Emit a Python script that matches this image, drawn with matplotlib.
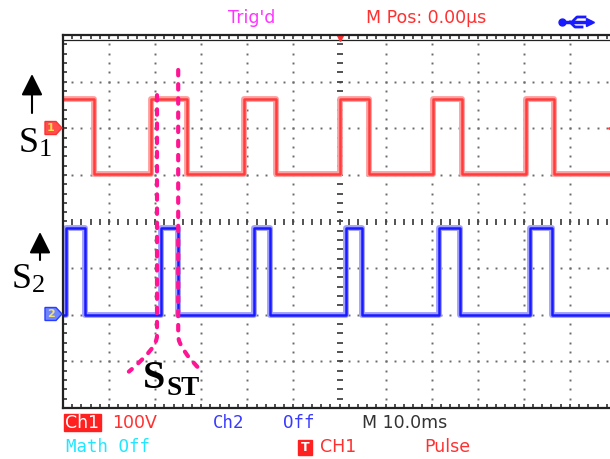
import matplotlib.pyplot as plt
import numpy as np
from matplotlib.patches import Polygon, Rectangle, PathPatch, FancyArrowPatch
from matplotlib.path import Path

# time in ms (10 ms/div), 0 = trigger point at the centre of the screen
# S1 on ch1, 100 V/div, its ground marker sits 2 div above the centre
ch1_edges = [-60.0, -53.3, -40.9, -33.0, -20.7, -13.7, 0.2, 6.3, 20.2, 26.5, 40.4, 46.5, 60.0]
ch1_state = [1, 0, 1, 0, 1, 0, 1, 0, 1, 0, 1, 0]
ch1_on_v = 62.0
ch1_off_v = -98.0

# S2 on ch2, in div above its ground marker (2 div below the centre)
ch2_edges = [-60.0, -59.3, -55.2, -38.7, -35.0, -18.5, -15.0, 1.5, 4.8, 21.5, 26.1, 41.3, 46.1, 60.0]
ch2_state = [0, 1, 0, 1, 0, 1, 0, 1, 0, 1, 0, 1, 0]
ch2_on_div = 1.86
ch2_off_div = 0.0

# hand-drawn S_ST guide lines (ms, div)
sst_left = [(-39.6, 2.71), (-39.6, -2.45), (-39.6, -2.72), (-45.7, -3.22)]
sst_right = [(-35.0, 3.25), (-35.0, -2.45), (-35.0, -2.72), (-29.8, -3.22)]

W, H = 610, 459


def fx(x):
    return x / W


def fy(y):
    return 1 - y / H


fig = plt.figure(figsize=(W / 100, H / 100), dpi=100)
ax = fig.add_axes([63 / W, 1 - 408 / H, 553 / W, 373 / H])
ax.set_xlim(-60, 60)
ax.set_ylim(-4, 4)

# ruler ticks on the screen border
ax.set_xticks(np.arange(-60, 60.1, 2))
ax.set_yticks(np.arange(-4, 4.01, 0.2))
ax.tick_params(direction='in', length=3.2, width=1.1, top=True, right=True,
               labelbottom=False, labelleft=False, color='#222222')
for s in ax.spines.values():
    s.set_linewidth(1.6)
    s.set_color('#222222')
ax.axhline(4 - 0.1, color='#222222', lw=0.9)

# dotted graticule
dots_y = np.arange(-4, 4.01, 0.2)
for gx in range(-50, 51, 10):
    if gx == 0:
        continue
    ax.plot(np.full_like(dots_y, gx), dots_y, ls='none', marker='s', ms=1.4,
            mew=0, color='#6a6a6a')
dots_x = np.arange(-60, 60.1, 2)
for gy in range(-3, 4):
    if gy == 0:
        continue
    ax.plot(dots_x, np.full_like(dots_x, gy), ls='none', marker='s', ms=1.4,
            mew=0, color='#6a6a6a')
# centre cross with small ticks
ax.plot(dots_x, np.zeros_like(dots_x), ls='none', marker='|', ms=4, mew=1.3,
        color='#444444')
ax.plot(np.zeros_like(dots_y), dots_y, ls='none', marker='_', ms=4, mew=1.3,
        color='#444444')

# traces
y1 = [2 + (ch1_on_v if s else ch1_off_v) / 100 for s in ch1_state]
y1 = y1 + [y1[-1]]
y2 = [-2 + (ch2_on_div if s else ch2_off_div) for s in ch2_state]
y2 = y2 + [y2[-1]]
ax.plot(ch1_edges, y1, drawstyle='steps-post', color='#ffa0a0', lw=4.2)
ax.plot(ch1_edges, y1, drawstyle='steps-post', color='#ff3b3b', lw=1.8)
ax.plot(ch2_edges, y2, drawstyle='steps-post', color='#a0a0ff', lw=4.2)
ax.plot(ch2_edges, y2, drawstyle='steps-post', color='#1a1aff', lw=1.8)

# trigger level marker on the right edge
ax.plot([58.9], [2.0], marker='<', ms=5, color='#ff4040', clip_on=False)

# pink guide lines
codes = [Path.MOVETO, Path.LINETO, Path.CURVE3, Path.CURVE3]
for pts in (sst_left, sst_right):
    ax.add_patch(PathPatch(Path(pts, codes), fill=False, edgecolor='#ff1493',
                           lw=3.0, linestyle=(0, (1.3, 2.1)), capstyle='round',
                           zorder=5))

# channel flags on the left
for yc, face, edge, txt, tcol in [(128, '#ff4d4d', '#ff3030', '1', '#ffd84a'),
                                   (314, '#6f86ff', '#2a3cff', '2', '#f2e27a')]:
    pts = [(45, yc - 6.5), (56, yc - 6.5), (62, yc), (56, yc + 6.5), (45, yc + 6.5)]
    fig.add_artist(Polygon([(fx(a), fy(b)) for a, b in pts], closed=True,
                           facecolor=face, edgecolor=edge, lw=1,
                           transform=fig.transFigure))
    fig.text(fx(51), fy(yc), txt, color=tcol, fontsize=8, fontweight='bold',
             ha='center', va='center')

# top status line
scope = 'DejaVu Sans'
fig.text(fx(228), fy(18), "Trig'd", color='#ff33ff', fontsize=12.5,
         family=scope, va='center')
fig.text(fx(366), fy(18), 'M Pos: 0.00µs', color='#ff3030', fontsize=12.5,
         family=scope, va='center')
ax.plot([0], [3.93], marker='v', ms=5, color='#ff3030', clip_on=False)
# usb icon
fig.add_artist(plt.Line2D([fx(562), fx(590)], [fy(22), fy(22)], lw=2.5,
                          color='#1a1aff', transform=fig.transFigure))
fig.add_artist(plt.Line2D([fx(572), fx(577), fx(585)], [fy(22), fy(17), fy(17)],
                          lw=2, color='#1a1aff', transform=fig.transFigure))
fig.add_artist(plt.Line2D([fx(570), fx(575), fx(582)], [fy(22), fy(27), fy(27)],
                          lw=2, color='#1a1aff', transform=fig.transFigure))
fig.add_artist(plt.Line2D([fx(562)], [fy(22)], marker='o', ms=5,
                          color='#1a1aff', transform=fig.transFigure))
fig.add_artist(plt.Line2D([fx(590)], [fy(22)], marker='>', ms=6,
                          color='#1a1aff', transform=fig.transFigure))

# bottom status lines
fig.add_artist(Rectangle((fx(64), fy(431)), 37 / W, 17 / H, color='#ff2020',
                         transform=fig.transFigure))
fig.text(fx(82.5), fy(422.5), 'Ch1', color='white', fontsize=12.5, family=scope,
         ha='center', va='center')
fig.text(fx(112), fy(422.5), '100V', color='#ff3030', fontsize=12.5,
         family=scope, va='center')
fig.text(fx(213), fy(422.5), 'Ch2', color='#3a3aff', fontsize=12.5,
         family='DejaVu Sans Mono', va='center')
fig.text(fx(283), fy(422.5), 'Off', color='#3a3aff', fontsize=12.5,
         family='DejaVu Sans Mono', va='center')
fig.text(fx(362), fy(422.5), 'M 10.0ms', color='#333333', fontsize=12.5,
         family=scope, va='center')
fig.text(fx(66), fy(447.5), 'Math Off', color='#22e6ff', fontsize=12.5,
         family='DejaVu Sans Mono', va='center')
fig.add_artist(Rectangle((fx(298), fy(455)), 14 / W, 15 / H, color='#ff2020',
                         transform=fig.transFigure))
fig.text(fx(305), fy(447.5), 'T', color='white', fontsize=9, fontweight='bold',
         ha='center', va='center')
fig.text(fx(320), fy(447.5), 'CH1', color='#ff3030', fontsize=12.5,
         family=scope, va='center')
fig.text(fx(424), fy(447.5), 'Pulse', color='#ff3030', fontsize=12.5,
         family=scope, va='center')

# signal labels with arrows
serif = 'Liberation Serif'
for (ax_x, tip, tail) in [(32, 74, 113), (40, 232, 260)]:
    fig.add_artist(FancyArrowPatch(
        (fx(ax_x), fy(tail)), (fx(ax_x), fy(tip)), transform=fig.transFigure,
        arrowstyle='-|>,head_length=1.3,head_width=0.65', mutation_scale=10,
        lw=1.5, color='black', shrinkA=0, shrinkB=0))
fig.text(fx(19), fy(152), 'S', family=serif, fontsize=26, va='baseline')
fig.text(fx(39), fy(156), '1', family=serif, fontsize=19, va='baseline')
fig.text(fx(12), fy(288), 'S', family=serif, fontsize=26, va='baseline')
fig.text(fx(32), fy(292), '2', family=serif, fontsize=19, va='baseline')
fig.text(fx(143), fy(388), 'S', family=serif, fontsize=29, fontweight='bold',
         va='baseline')
fig.text(fx(166), fy(395), 'ST', family=serif, fontsize=19.5, fontweight='bold',
         va='baseline')

fig.savefig('out.png', dpi=100)
